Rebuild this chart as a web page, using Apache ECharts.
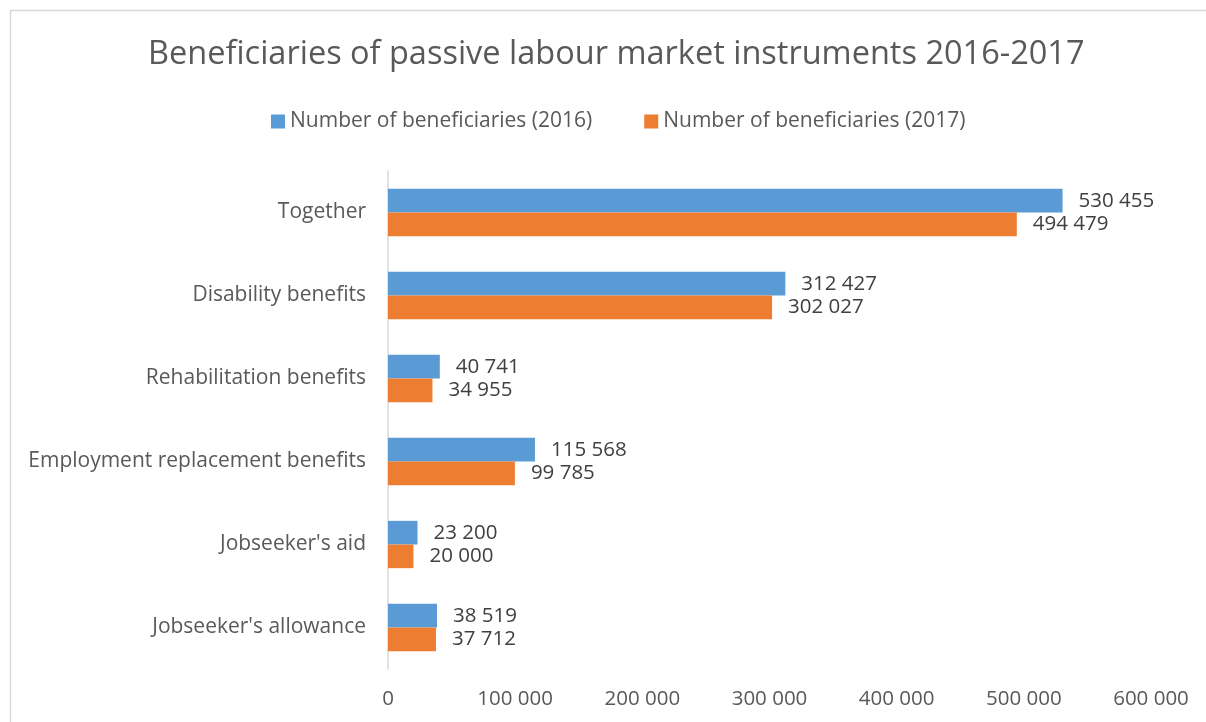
<!DOCTYPE html>
<html>
<head>
<meta charset="utf-8">
<style>
  html, body { margin: 0; padding: 0; background: #ffffff; }
  #chart { width: 1206px; height: 722px; }
</style>
<script src="https://cdn.jsdelivr.net/npm/echarts@6/dist/echarts.min.js"></script>
</head>
<body>
<div id="chart"></div>
<script>
// Passive labour market instruments, beneficiaries per year
const categories = [
  'Together',
  'Disability benefits',
  'Rehabilitation benefits',
  'Employment replacement benefits',
  "Jobseeker's aid",
  "Jobseeker's allowance"
];
const beneficiaries2016 = [530455, 312427, 40741, 115568, 23200, 38519];
const beneficiaries2017 = [494479, 302027, 34955, 99785, 20000, 37712];
const seriesNames = ['Number of beneficiaries (2016)', 'Number of beneficiaries (2017)'];

const FONT = 'Open Sans';
const TEXT = '#595959';
const fmt = v => String(v).replace(/\B(?=(\d{3})+(?!\d))/g, ' ');

const chart = echarts.init(document.getElementById('chart'), null, { renderer: 'canvas' });

function barSeries(name, values, color) {
  return {
    name: name,
    type: 'bar',
    data: values,
    itemStyle: { color: color },
    barGap: '0%',
    barCategoryGap: '43%',
    label: {
      show: true,
      position: 'right',
      distance: 16,
      formatter: p => fmt(p.value),
      fontFamily: FONT,
      fontSize: 20.5,
      color: '#404040'
    }
  };
}

chart.setOption({
  backgroundColor: '#ffffff',
  animation: false,
  title: {
    text: 'Beneficiaries of passive labour market instruments 2016-2017',
    left: 143,
    top: 33,
    textStyle: { fontFamily: FONT, fontSize: 32.5, fontWeight: 'normal', color: TEXT }
  },
  legend: {
    top: 106,
    left: 266,
    itemWidth: 14,
    itemHeight: 14,
    itemGap: 52,
    icon: 'rect',
    textStyle: { fontFamily: FONT, fontSize: 21, color: TEXT },
    data: seriesNames
  },
  graphic: [{
    type: 'rect',
    shape: { x: 10.5, y: 10.5, width: 1220, height: 740 },
    style: { fill: null, stroke: '#d9d9d9', lineWidth: 1.5 },
    silent: true
  }],
  grid: { left: 388, right: 55, top: 171, bottom: 53, containLabel: false },
  xAxis: {
    type: 'value',
    min: 0,
    max: 600000,
    interval: 100000,
    axisLine: { show: false },
    axisTick: { show: false },
    splitLine: { show: false },
    axisLabel: {
      formatter: fmt,
      margin: 20,
      fontFamily: FONT,
      fontSize: 20.5,
      color: TEXT
    }
  },
  yAxis: {
    type: 'category',
    inverse: true,
    data: categories,
    axisLine: { lineStyle: { color: '#d9d9d9', width: 1.5 } },
    axisTick: { length: 6, lineStyle: { color: '#d9d9d9', width: 1.5 } },
    axisLabel: {
      margin: 22,
      fontFamily: FONT,
      fontSize: 21,
      color: TEXT
    }
  },
  series: [
    barSeries(seriesNames[0], beneficiaries2016, '#5b9bd5'),
    barSeries(seriesNames[1], beneficiaries2017, '#ed7d31')
  ]
});
</script>
</body>
</html>
